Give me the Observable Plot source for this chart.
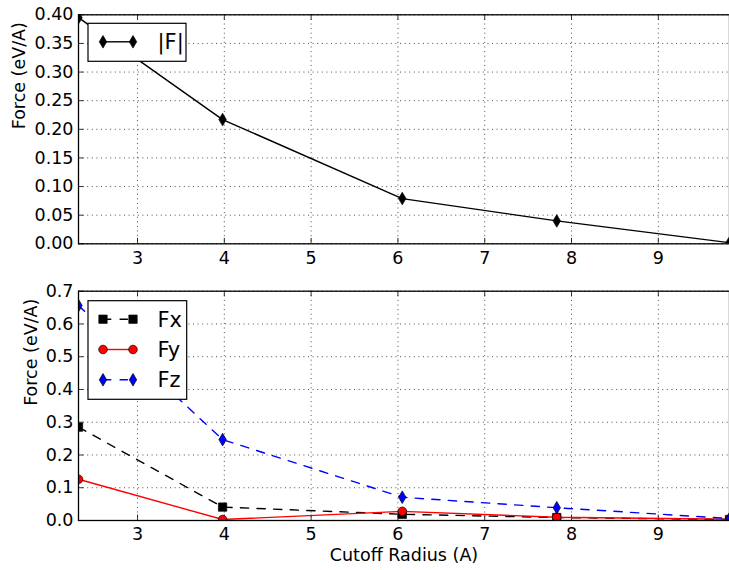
<!DOCTYPE html>
<html>
<head>
<meta charset="utf-8">
<script src="https://cdn.jsdelivr.net/npm/d3@7"></script>
<script src="https://cdn.jsdelivr.net/npm/@observablehq/plot@0.6"></script>
<style>
  body { margin: 0; background: white; }
  #chart { position: relative; width: 729px; height: 570px; overflow: hidden; background: white; font-family: "DejaVu Sans", sans-serif; }
  #chart svg.plot-panel { display: block; }
  .legend { position: absolute; top: 0; left: 0; pointer-events: none; }
</style>
</head>
<body>
<div id="chart"></div>
<script>
// Cutoff radius (A) at which the forces were computed
const cutoff = [2.32, 3.98, 6.05, 7.83, 9.82];
// Force magnitude and components (eV/A)
const fMag = [0.395, 0.217, 0.079, 0.040, 0.002];
const fx = [0.285, 0.041, 0.019, 0.009, 0.003];
const fy = [0.126, 0.003, 0.028, 0.010, 0.004];
const fz = [0.656, 0.247, 0.071, 0.039, 0.006];

const xTicks = [3, 4, 5, 6, 7, 8, 9];
const yTicksTop = [0, 0.05, 0.10, 0.15, 0.20, 0.25, 0.30, 0.35, 0.40];
const yTicksBottom = [0, 0.1, 0.2, 0.3, 0.4, 0.5, 0.6, 0.7];

const yLabel = "Force (eV/A)";
const xLabel = "Cutoff Radius (A)";

// Narrow diamond marker
const thinDiamond = {
  draw(ctx, size) {
    const r = Math.sqrt(size / Math.PI);
    const h = r * 1.4, w = r * 0.82;
    ctx.moveTo(0, -h);
    ctx.lineTo(w, 0);
    ctx.lineTo(0, h);
    ctx.lineTo(-w, 0);
    ctx.closePath();
  }
};

const DASH = "8.3,8.3";
const FONT = "DejaVu Sans";
const FS = 17.5;      // tick and axis label size
const LEGEND_FS = 21; // legend entries are set larger

const topSeries = [
  {name: "|F|", values: fMag, color: "black", dash: null, symbol: thinDiamond, r: 4.5}
];
const bottomSeries = [
  {name: "Fx", values: fx, color: "black", dash: DASH, symbol: d3.symbolSquare, r: 4.7},
  {name: "Fy", values: fy, color: "#ff0000", dash: null, symbol: d3.symbolCircle, r: 4.3},
  {name: "Fz", values: fz, color: "#0000ff", dash: DASH, symbol: thinDiamond, r: 4.5}
];

function panel({height, marginTop, marginBottom, yTicks, yFormat, series, yLabelDx, withXLabel}) {
  const plotH = height - marginTop - marginBottom;
  const plotW = 729 - 78;
  const marks = [
    // dotted grid
    Plot.ruleX(xTicks, {x: d => d, stroke: "black", strokeWidth: 0.7, strokeDasharray: "1,3.6"}),
    Plot.ruleY(yTicks, {y: d => d, stroke: "black", strokeWidth: 0.7, strokeDasharray: "1,3.6"}),
    // inward tick marks on bottom, top and left spines
    Plot.tickX(xTicks, {x: d => d, insetTop: plotH - 5.5, stroke: "black", strokeWidth: 0.8}),
    Plot.tickX(xTicks, {x: d => d, insetBottom: plotH - 5.5, stroke: "black", strokeWidth: 0.8}),
    Plot.tickY(yTicks, {y: d => d, insetRight: plotW - 5.5, stroke: "black", strokeWidth: 0.8})
  ];
  for (const s of series) {
    const data = cutoff.map((x, i) => ({x, y: s.values[i]}));
    marks.push(Plot.line(data, {
      x: "x", y: "y", stroke: s.color, strokeWidth: 1.4,
      strokeDasharray: s.dash ?? undefined, clip: true
    }));
    marks.push(Plot.dot(data, {
      x: "x", y: "y", symbol: s.symbol, r: s.r, fill: s.color,
      stroke: "black", strokeWidth: 0.7, clip: true
    }));
  }
  marks.push(Plot.frame({stroke: "black", strokeWidth: 1.3}));
  marks.push(Plot.text([yLabel], {
    text: d => d, frameAnchor: "left", rotate: -90, dx: yLabelDx,
    fontSize: FS, fill: "black"
  }));
  if (withXLabel) {
    marks.push(Plot.text([xLabel], {
      text: d => d, frameAnchor: "bottom", lineAnchor: "top", dy: 28.3,
      fontSize: FS, fill: "black"
    }));
  }
  const svg = Plot.plot({
    width: 729, height, marginLeft: 78, marginRight: 0, marginTop, marginBottom,
    style: {fontFamily: FONT, fontSize: FS + "px", color: "black", background: "white", overflow: "visible"},
    x: {domain: [cutoff[0], cutoff[cutoff.length - 1]], ticks: xTicks, tickFormat: d3.format("d"),
        tickSize: 0, tickPadding: 7.5, label: null},
    y: {domain: [yTicks[0], yTicks[yTicks.length - 1]], ticks: yTicks, tickFormat: d3.format(yFormat),
        tickSize: 0, tickPadding: 5, label: null},
    marks
  });
  svg.classList.add("plot-panel");
  return svg;
}

const chart = document.getElementById("chart");
chart.appendChild(panel({
  height: 270, marginTop: 14.3, marginBottom: 26.7,
  yTicks: yTicksTop, yFormat: ".2f", series: topSeries, yLabelDx: -59, withXLabel: false
}));
chart.appendChild(panel({
  height: 300, marginTop: 20.7, marginBottom: 50,
  yTicks: yTicksBottom, yFormat: ".1f", series: bottomSeries, yLabelDx: -47, withXLabel: true
}));

// Legend boxes drawn over the axes
function legend(series, left, top, width, rowGap) {
  const height = 19 + (series.length - 1) * rowGap + 19;
  const svg = d3.create("svg")
    .attr("class", "legend")
    .attr("width", 729).attr("height", 570)
    .style("font-family", FONT).style("font-size", LEGEND_FS + "px");
  const g = svg.append("g").attr("transform", `translate(${left},${top})`);
  g.append("rect").attr("x", 0).attr("y", 0).attr("width", width).attr("height", height)
    .attr("fill", "white").attr("stroke", "black").attr("stroke-width", 1.2);
  series.forEach((s, i) => {
    const y = 18.5 + i * rowGap;
    g.append("line").attr("x1", 15).attr("x2", 45).attr("y1", y).attr("y2", y)
      .attr("stroke", s.color).attr("stroke-width", 1.4)
      .attr("stroke-dasharray", s.dash);
    for (const x of [15, 45]) {
      g.append("path")
        .attr("d", d3.symbol(s.symbol, Math.PI * s.r * s.r)())
        .attr("transform", `translate(${x},${y})`)
        .attr("fill", s.color).attr("stroke", "black").attr("stroke-width", 0.7);
    }
    g.append("text").attr("x", 69.5).attr("y", y).attr("dy", "0.36em")
      .attr("fill", "black").text(s.name);
  });
  return svg.node();
}

chart.appendChild(legend(topSeries, 88, 23.3, 98, 30.3));
chart.appendChild(legend(bottomSeries, 88, 300.7, 98.7, 30.3));
</script>
</body>
</html>
